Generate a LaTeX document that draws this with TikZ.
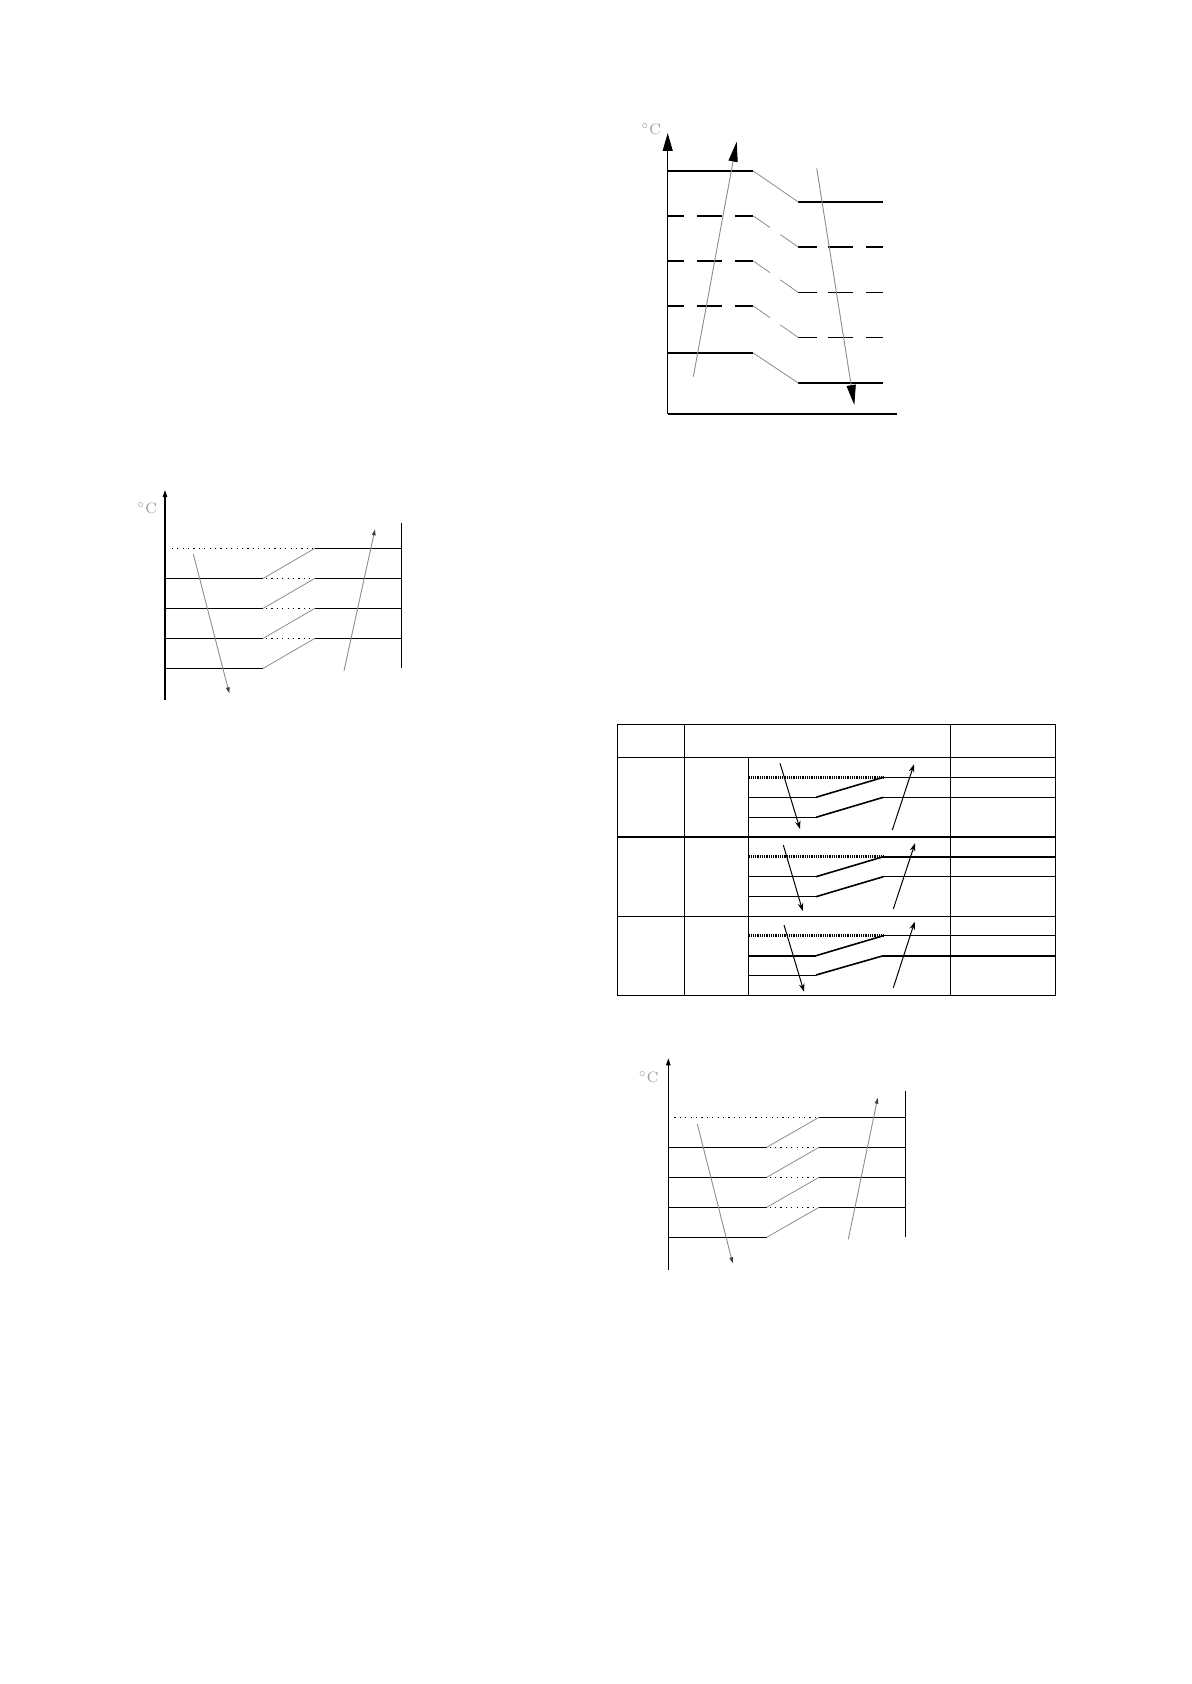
\documentclass[tikz,border=0pt]{standalone}
\usetikzlibrary{arrows.meta,calc}
\begin{document}
\begin{tikzpicture}[x=0.5pt,y=-0.5pt,
  lvl/.style={line width=0.6pt,black},
  axis/.style={line width=0.6pt,black},
  conn/.style={line width=0.4pt,draw=black!45},
  sdots/.style={line width=0.6pt,dash pattern=on 0.6pt off 2.1pt},
  gshaft/.style={line width=0.45pt,draw=black!45},
  bigtip/.style={-{Triangle[length=10pt,width=4.6pt,fill=black,color=black]}},
  smalltip/.style={-{Triangle[length=3pt,width=1.8pt,color=black!75]}},
  tline/.style={line width=0.5pt},
  tthick/.style={line width=1.2pt},
  tslant/.style={line width=0.8pt},
  tdots/.style={line width=1.3pt,dash pattern=on 0.45pt off 0.45pt},
  tarrow/.style={line width=0.5pt,-{Stealth[length=4pt,width=2.8pt]}},
  deg/.style={text=black!40,font=\fontsize{7.5}{8}\selectfont,inner sep=0pt}]
\useasboundingbox (0,0) rectangle (1191,1684);

%% ---------------- Diagram 1 (top right) ----------------
\node[deg] (degA) at (651,129) {$^\circ$C};
\coordinate (oA) at (667.7,414);
\coordinate (yA) at (667.7,133);
\coordinate (xA) at (896.7,414);
\draw[axis,-{Triangle[length=9pt,width=5pt]}] (oA) -- (yA);
\draw[axis] (oA) -- (xA);
% solid levels
\draw[lvl] (667.7,171) -- (753.3,171);
\draw[lvl] (798.3,202) -- (883.3,202);
\draw[conn] (753.3,171) -- (798.3,202);
\draw[lvl] (667.7,353) -- (753.3,353);
\draw[lvl] (798.3,383) -- (883.3,383);
\draw[conn] (753.3,353) -- (798.3,383);
% dashed levels
\foreach \yl/\yr in {216/247,261/292.5,306/337.5}{
  \draw[lvl] (667.7,\yl) -- (684.3,\yl) (697.3,\yl) -- (721.7,\yl) (735,\yl) -- (753.3,\yl);
  \draw[lvl] (798.3,\yr) -- (816.7,\yr) (828.3,\yr) -- (852.7,\yr) (866,\yr) -- (883.3,\yr);
  \draw[conn] (753.3,\yl) -- ($(753.3,\yl)!0.37!(798.3,\yr)$);
  \draw[conn] ($(753.3,\yl)!0.6!(798.3,\yr)$) -- (798.3,\yr);
}
\coordinate (upA0) at (693.3,376.7);
\coordinate (upA1) at (736.7,141.7);
\draw[gshaft,bigtip] (upA0) -- (upA1);
\coordinate (dnA0) at (816.7,168.3);
\coordinate (dnA1) at (854.3,405);
\draw[gshaft,bigtip] (dnA0) -- (dnA1);

%% ---------------- Diagram 2 (left) ----------------
\node[deg] (degB) at (147,508) {$^\circ$C};
\draw[axis,-{Triangle[length=3.5pt,width=2.2pt]}] (165,700) -- (165,490);
\draw[axis] (401.7,522.7) -- (401.7,668.3);
\draw[sdots] (171.7,548.3) -- (315,548.3);
\draw[lvl] (315,548.3) -- (401.7,548.3);
\foreach \y/\yp in {578.3/548.3,608.3/578.3,638.3/608.3}{
  \draw[lvl] (163.5,\y) -- (263.3,\y);
  \draw[sdots] (266,\y) -- (315,\y);
  \draw[lvl] (315,\y) -- (401.7,\y);
  \draw[conn] (263.3,\y) -- (315,\yp);
}
\draw[lvl] (165,668.3) -- (263.3,668.3);
\draw[conn] (263.3,668.3) -- (315,638.3);
\draw[gshaft,smalltip] (193.3,554) -- (229.3,693.3);
\draw[gshaft,smalltip] (344,670.7) -- (375,529.3);

%% ---------------- Diagram 4 (bottom right) ----------------
\node[deg] (degD) at (648.5,1077) {$^\circ$C};
\draw[axis,-{Triangle[length=3.5pt,width=2.2pt]}] (668.3,1270) -- (668.3,1058.3);
\draw[axis] (905.7,1090.7) -- (905.7,1237.3);
\draw[sdots] (674.3,1117.3) -- (819,1117.3);
\draw[lvl] (819,1117.3) -- (905.7,1117.3);
\foreach \y/\yp in {1147.3/1117.3,1177.3/1147.3,1207.3/1177.3}{
  \draw[lvl] (668.3,\y) -- (766.7,\y);
  \draw[sdots] (769.5,\y) -- (819,\y);
  \draw[lvl] (819,\y) -- (905.7,\y);
  \draw[conn] (766.7,\y) -- (819,\yp);
}
\draw[lvl] (668.3,1237.3) -- (766.7,1237.3);
\draw[conn] (766.7,1237.3) -- (819,1207.3);
\draw[gshaft,smalltip] (697.3,1124) -- (732.7,1263.3);
\draw[gshaft,smalltip] (848.3,1239.3) -- (877.7,1097.7);

%% ---------------- Table (diagram 3) ----------------
\draw[tline] (617.3,724.3) rectangle (1055.7,995);
\draw[tline] (684.3,724.3) -- (684.3,995);
\draw[tline] (950.7,724.3) -- (950.7,995);
\draw[tline] (748.3,757.3) -- (748.3,995);
\draw[tline] (617.3,757.3) -- (1055.7,757.3);
\draw[tthick] (617.3,836.7) -- (1055.7,836.7);
\draw[tline] (617.3,916.7) -- (1055.7,916.7);
% row 1
\draw[tdots] (749.3,777.3) -- (883.3,777.3);
\draw[tline] (883.3,777.3) -- (1055.7,777.3);
\draw[tline] (748.3,797.3) -- (816,797.3);
\draw[tslant] (816,797.3) -- (883.3,777.3);
\draw[tline] (883.3,797.3) -- (1055.7,797.3);
\draw[tline] (748.3,817.3) -- (816,817.3);
\draw[tslant] (816,817.3) -- (883.3,797.3);
\draw[tarrow] (780,763.3) -- (800,829);
\draw[tarrow] (892.3,830) -- (914,764.3);
% row 2
\draw[tdots] (749.3,856.7) -- (883.3,856.7);
\draw[tthick] (883.3,856.7) -- (1055.7,856.7);
\draw[tline] (748.3,876.7) -- (816,876.7);
\draw[tslant] (816,876.7) -- (883.3,856.7);
\draw[tline] (883.3,876.7) -- (1055.7,876.7);
\draw[tline] (748.3,896.7) -- (816,896.7);
\draw[tslant] (816,896.7) -- (883.3,876.7);
\draw[tarrow] (783.3,845) -- (802.7,911);
\draw[tarrow] (893.3,909) -- (915,843.3);
% row 3
\draw[tdots] (749.3,935.7) -- (883.3,935.7);
\draw[tline] (883.3,935.7) -- (1055.7,935.7);
\draw[tthick] (748.3,955.7) -- (816,955.7);
\draw[tslant] (816,955.7) -- (883.3,935.7);
\draw[tthick] (883.3,955.7) -- (1055.7,955.7);
\draw[tline] (748.3,975) -- (816,975);
\draw[tslant] (816,975) -- (883.3,955.7);
\draw[tarrow] (784,925) -- (804,991.7);
\draw[tarrow] (893.3,987.7) -- (914.7,921.7);
\end{tikzpicture}
\end{document}
